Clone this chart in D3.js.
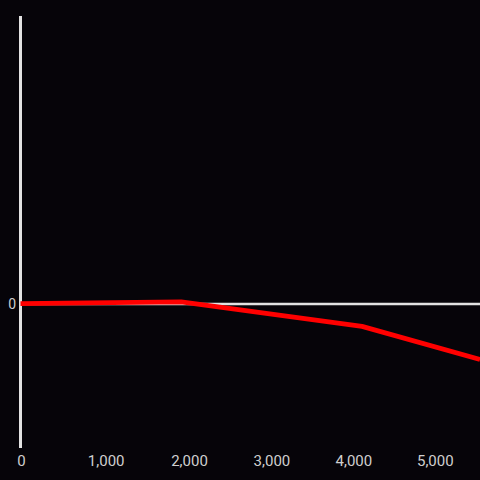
<!DOCTYPE html>
<html>
<head>
<meta charset="utf-8">
<script src="https://cdn.jsdelivr.net/npm/d3@7"></script>
<style>
  html, body { margin: 0; padding: 0; background: #060409; }
  svg { display: block; }
</style>
</head>
<body>
<svg id="chart" width="480" height="480"></svg>
<script>
// Data
const xValues = [0, 1900, 4100, 5550];
const yValues = [0.003, 0.015, -0.155, -0.385];
const xTicks = [0, 1000, 2000, 3000, 4000, 5000];
const yTicks = [0];

const W = 480, H = 480;
const svg = d3.select("#chart");
svg.append("rect").attr("width", W).attr("height", H).attr("fill", "#060409");

const x = d3.scalePow().exponent(0.98).domain([0, 5550]).range([20.5, 480]);
const y = d3.scaleLinear().domain([-1, 2]).range([448, 16]);

const axisColor = "#e2e2e2";
const labelColor = "#cfcfcf";
const font = "Roboto, 'DejaVu Sans', sans-serif";

// zero line (horizontal)
svg.append("line")
  .attr("x1", x(0)).attr("x2", W)
  .attr("y1", y(0)).attr("y2", y(0))
  .attr("stroke", axisColor).attr("stroke-width", 2.6);

// y axis line
svg.append("line")
  .attr("x1", x(0)).attr("x2", x(0))
  .attr("y1", y(2)).attr("y2", y(-1))
  .attr("stroke", axisColor).attr("stroke-width", 3);

// y tick labels
svg.selectAll(".ylab").data(yTicks).enter().append("text")
  .attr("x", 16).attr("y", d => y(d))
  .attr("dy", "0.35em")
  .attr("text-anchor", "end")
  .attr("font-family", font).attr("font-size", 14)
  .attr("fill", labelColor)
  .text(d => d3.format(",")(d));

// x tick labels
svg.selectAll(".xlab").data(xTicks).enter().append("text")
  .attr("x", d => x(d) + (d === 0 ? 1 : 0)).attr("y", 466)
  .attr("text-anchor", "middle")
  .attr("font-family", font).attr("font-size", 15)
  .attr("fill", labelColor)
  .text(d => d3.format(",")(d));

// red line
const pts = xValues.map((v, i) => [v, yValues[i]]);
svg.append("path")
  .datum(pts)
  .attr("fill", "none")
  .attr("stroke", "#ff0000")
  .attr("stroke-width", 4.8)
  .attr("stroke-linejoin", "round")
  .attr("d", d3.line().x(d => x(d[0])).y(d => y(d[1])));
</script>
</body>
</html>
